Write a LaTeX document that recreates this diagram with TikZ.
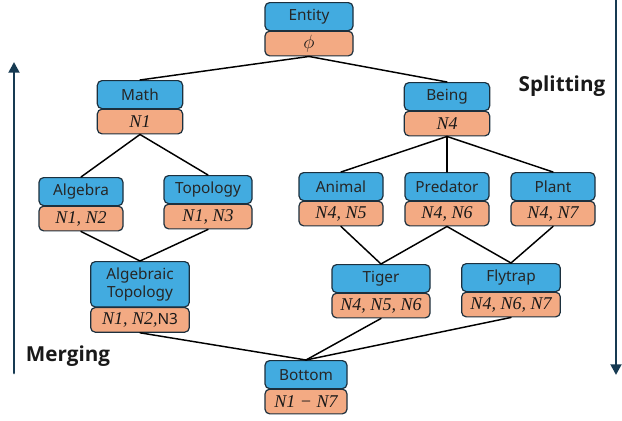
\documentclass[tikz,border=0pt]{standalone}
\usepackage{fontspec}
\setmainfont{Noto Sans}
\newfontfamily\sidefont{Open Sans}
\newfontfamily\lblserif{Liberation Serif}
\usepackage{tikz}
\usetikzlibrary{arrows.meta,positioning}

\definecolor{cblue}{RGB}{66,171,224}
\definecolor{corange}{RGB}{243,170,131}
\definecolor{cedge}{RGB}{28,48,62}
\definecolor{cnavy}{RGB}{22,58,82}

\tikzset{
  cpt/.style={draw=cedge,fill=cblue,rounded corners=3.5pt,line width=0.9pt,
    minimum height=21pt,inner sep=1pt,font=\fontsize{11.5}{12.5}\selectfont,
    text=black!85,align=center,anchor=north},
  cset/.style={draw=cedge,fill=corange,rounded corners=3.5pt,line width=0.9pt,
    minimum height=18.5pt,inner sep=1pt,font=\lblserif\itshape\fontsize{13.5}{14}\selectfont,
    text=black!90,anchor=north},
  link/.style={line width=1.1pt,black},
  flow/.style={line width=2.2pt,cnavy,-{Triangle[length=8pt,width=8pt]}},
  side/.style={font=\sidefont\fontsize{15.5}{17}\selectfont\bfseries,text=black!90}
}

\begin{document}
\begin{tikzpicture}[x=0.75pt,y=-0.75pt,line cap=round]
  \useasboundingbox (0,0) rectangle (622,421);
  % concept boxes: name / x / top / width / label / set
  \foreach \n/\x/\y/\w/\t/\s in {
      ent/309/2/66/Entity/{$\phi$},
      math/140/80/64/Math/{N1},
      being/447/82/64/Being/{N4},
      alg/81/177/63/Algebra/{N1, N2},
      top/208/175/66/Topology/{N1, N3},
      anim/341/172/63/Animal/{N4, N5},
      pred/447/172/63/Predator/{N4, N6},
      plant/553/172/63/Plant/{N4, N7},
      tiger/381/264/73.5/Tiger/{N4, N5, N6},
      fly/511/263/74/Flytrap/{N4, N6, N7},
      bot/306/360/61.5/Bottom/{N1 − N7}}
  {
    \node[cpt,minimum width=\w pt] (\n) at (\x,\y) {\t};
    \node[cset,minimum width=\w pt] (\n-s) at ([yshift=0.45pt]\n.south) {\s};
  }
  \node[cpt,minimum width=74pt,minimum height=34pt,font=\fontsize{11.5}{13.5}\selectfont]
    (algtop) at (140,261) {Algebraic\\Topology};
  \node[cset,minimum width=74pt] (algtop-s) at ([yshift=0.45pt]algtop.south)
    {N1, N2,{\normalfont\fontsize{11.5}{12}\selectfont N3}};

  % lattice edges
  \foreach \a/\b in {ent/math, ent/being, math/alg, math/top, alg/algtop, top/algtop,
      being/anim, being/pred, being/plant, anim/tiger, pred/tiger, pred/fly,
      plant/fly, algtop/bot, tiger/bot, fly/bot}
    \draw[link] (\a-s.south) -- (\b.north);

  % direction arrows
  \coordinate (mlo) at (14,373);
  \coordinate (mhi) at (14,62);
  \coordinate (shi) at (616,0);
  \coordinate (slo) at (616,375);
  \draw[flow] (mlo) -- (mhi);
  \draw[flow] (shi) -- (slo);
  \node[side] (merge) at (68,356) {Merging};
  \node[side] (split) at (562,86) {Splitting};
\end{tikzpicture}
\end{document}
